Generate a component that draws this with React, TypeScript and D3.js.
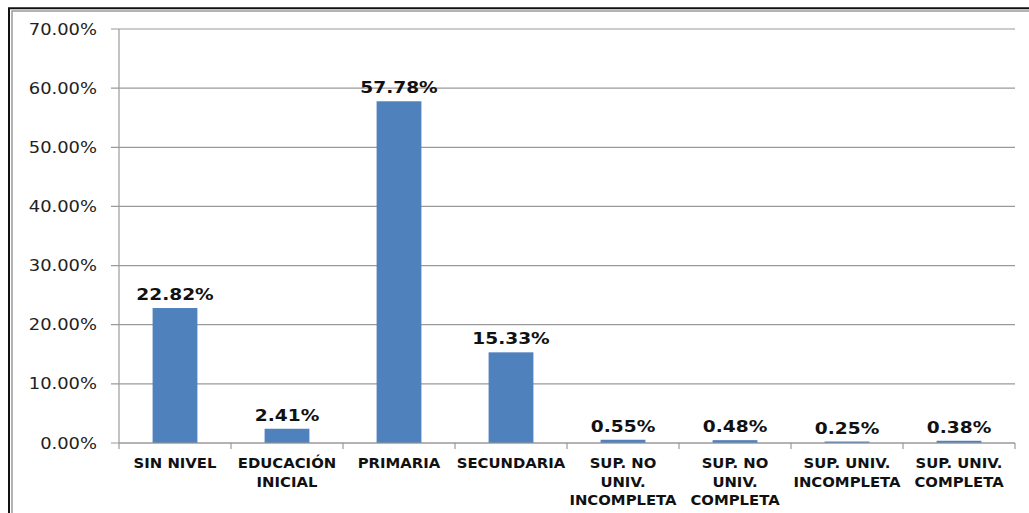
import React from "react";
import * as d3 from "d3";

const categories: string[][] = [
  ["SIN NIVEL"],
  ["EDUCACIÓN", "INICIAL"],
  ["PRIMARIA"],
  ["SECUNDARIA"],
  ["SUP. NO", "UNIV.", "INCOMPLETA"],
  ["SUP. NO", "UNIV.", "COMPLETA"],
  ["SUP. UNIV.", "INCOMPLETA"],
  ["SUP. UNIV.", "COMPLETA"],
];
const values: number[] = [22.82, 2.41, 57.78, 15.33, 0.55, 0.48, 0.25, 0.38];
const yTicks: number[] = [0, 10, 20, 30, 40, 50, 60, 70];

const W = 1029;
const H = 513;
const left = 119;
const right = 1015;
const top = 29;
const bottom = 443;

export default function App() {
  const keys = categories.map((_, i) => String(i));
  const x = d3.scaleBand<string>().domain(keys).range([left, right]).paddingInner(0.6).paddingOuter(0.3);
  const band = d3.scaleBand<string>().domain(keys).range([left, right]);
  const y = d3.scaleLinear().domain([0, 70]).range([bottom, top]);
  const fmt = (v: number) => v.toFixed(2) + "%";
  const font = "'DejaVu Sans', Verdana, sans-serif";
  const boundaries = d3.range(categories.length + 1).map((i) => left + i * band.bandwidth());

  return (
    <svg width={W} height={H} style={{ position: "absolute", left: 0, top: 0, background: "#fff" }}>
      <rect x={0} y={0} width={W} height={H} fill="#fff" />
      {/* frame */}
      <path d={`M9,${H} V8.3 H${W}`} fill="none" stroke="#111" strokeWidth={2} />
      <path d={`M12,${H} V11 H${W}`} fill="none" stroke="#9a9a9a" strokeWidth={1.5} />
      {/* gridlines and y ticks */}
      {yTicks.map((t) => (
        <g key={t}>
          <line x1={111} x2={right} y1={y(t)} y2={y(t)} stroke="#9a9a9a" strokeWidth={1.2} />
          <text
            transform={`translate(97,${y(t) + 5.5}) scale(1.17,1)`}
            textAnchor="end"
            fontFamily={font}
            fontSize={15.3}
            fill="#222"
          >
            {fmt(t)}
          </text>
        </g>
      ))}
      {/* y axis */}
      <line x1={left} x2={left} y1={top} y2={bottom} stroke="#9a9a9a" strokeWidth={1.2} />
      {/* x axis ticks */}
      {boundaries.map((b, i) => (
        <line key={i} x1={b} x2={b} y1={bottom} y2={bottom + 6} stroke="#9a9a9a" strokeWidth={1.2} />
      ))}
      {/* bars */}
      {values.map((v, i) => (
        <rect
          key={i}
          x={x(String(i))}
          y={y(v)}
          width={x.bandwidth()}
          height={bottom - y(v)}
          fill="#4F81BD"
        />
      ))}
      {/* x axis line (over bars) */}
      <line x1={left} x2={right} y1={bottom} y2={bottom} stroke="#9a9a9a" strokeWidth={1.2} />
      {/* value labels */}
      {values.map((v, i) => (
        <text
          key={i}
          transform={`translate(${(x(String(i)) as number) + x.bandwidth() / 2},${y(v) - 8}) scale(1.2,1)`}
          textAnchor="middle"
          fontFamily={font}
          fontWeight="bold"
          fontSize={15.5}
          fill="#111"
        >
          {fmt(v)}
        </text>
      ))}
      {/* category labels */}
      {categories.map((lines, i) => (
        <g key={i}>
          {lines.map((ln, j) => (
            <text
              key={j}
              transform={`translate(${(band(String(i)) as number) + band.bandwidth() / 2},${468 + j * 18.5}) scale(1.1,1)`}
              textAnchor="middle"
              fontFamily={font}
              fontWeight="bold"
              fontSize={13.5}
              fill="#111"
            >
              {ln}
            </text>
          ))}
        </g>
      ))}
    </svg>
  );
}
